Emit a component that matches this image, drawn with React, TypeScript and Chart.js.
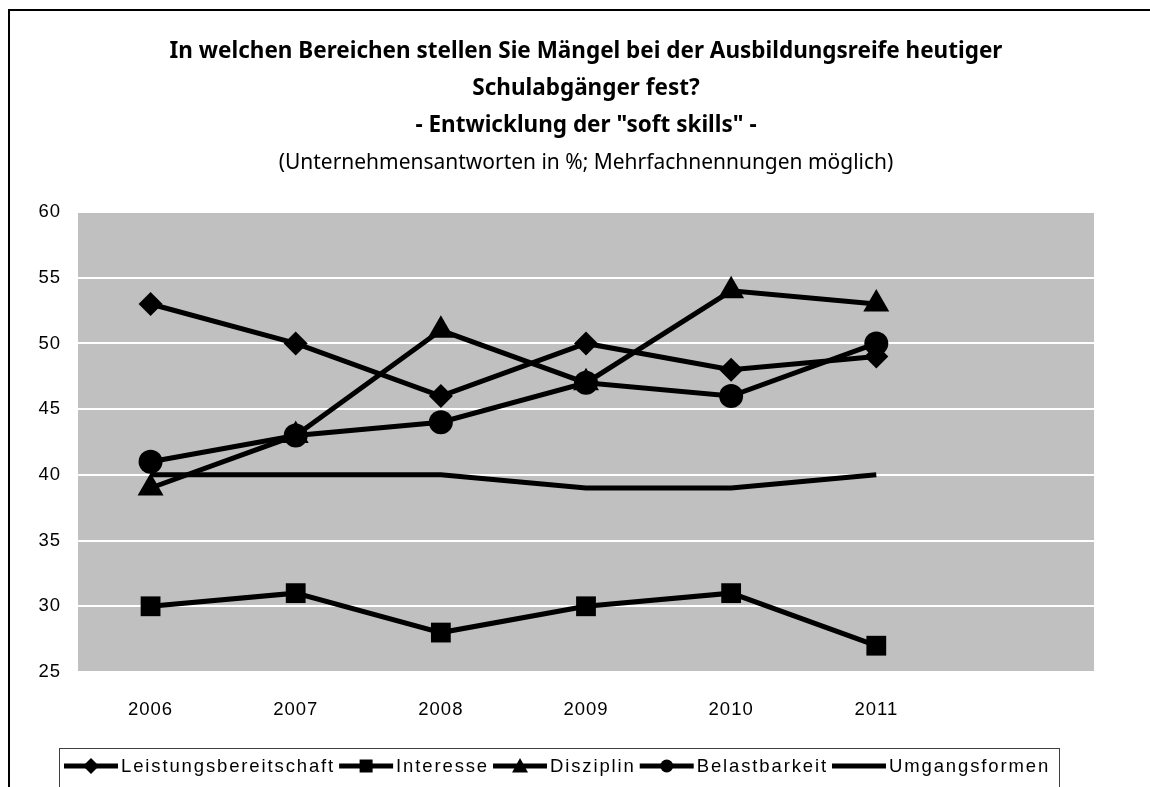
import React, { useEffect, useRef } from 'react';
import { Chart, registerables } from 'chart.js';

Chart.register(...registerables);

const years = ['2006', '2007', '2008', '2009', '2010', '2011', ''];
const leistungsbereitschaft = [53, 50, 46, 50, 48, 49];
const interesse = [30, 31, 28, 30, 31, 27];
const disziplin = [39, 43, 51, 47, 54, 53];
const belastbarkeit = [41, 43, 44, 47, 46, 50];
const umgangsformen = [40, 40, 40, 39, 39, 40];
const seriesNames = ['Leistungsbereitschaft', 'Interesse', 'Disziplin', 'Belastbarkeit', 'Umgangsformen'];
const seriesMarkers = ['rectRot', 'rect', 'triangle', 'circle', 'none'];
const yMin = 25;
const yMax = 60;
const yStep = 5;
const titleBold = [
  'In welchen Bereichen stellen Sie Mängel bei der Ausbildungsreife heutiger',
  'Schulabgänger fest?',
  '- Entwicklung der "soft skills" -',
];
const subtitle = '(Unternehmensantworten in %; Mehrfachnennungen möglich)';

const PLOT_LEFT = 78;
const PLOT_RIGHT = 1094;
const PLOT_TOP = 212;
const PLOT_BOTTOM = 672;
const TITLE_WIDTH = 833;
const SUBTITLE_WIDTH = 615;

function drawMarker(ctx: CanvasRenderingContext2D, style: string, x: number, y: number, r: number) {
  ctx.beginPath();
  if (style === 'rectRot') {
    ctx.moveTo(x, y - r);
    ctx.lineTo(x + r, y);
    ctx.lineTo(x, y + r);
    ctx.lineTo(x - r, y);
    ctx.closePath();
  } else if (style === 'rect') {
    ctx.rect(x - r, y - r, 2 * r, 2 * r);
  } else if (style === 'triangle') {
    ctx.moveTo(x, y - r);
    ctx.lineTo(x + r, y + r * 0.8);
    ctx.lineTo(x - r, y + r * 0.8);
    ctx.closePath();
  } else if (style === 'circle') {
    ctx.arc(x, y, r, 0, Math.PI * 2);
  } else {
    return;
  }
  ctx.fill();
}

function fitFont(ctx: CanvasRenderingContext2D, text: string, weight: string, family: string, width: number) {
  ctx.font = `${weight} 20px ${family}`;
  const w = ctx.measureText(text).width;
  const size = (20 * width) / w;
  return `${weight} ${size.toFixed(2)}px ${family}`;
}

const framePlugin = {
  id: 'customFrame',
  beforeDraw(chart: any) {
    const { ctx, chartArea } = chart;
    ctx.fillStyle = '#c0c0c0';
    ctx.fillRect(chartArea.left, chartArea.top, chartArea.right - chartArea.left, chartArea.bottom - chartArea.top);
    (ctx as any).letterSpacing = '1px';
  },
  afterDraw(chart: any) {
    const { ctx, chartArea } = chart;
    ctx.save();
    (ctx as any).letterSpacing = '0px';
    // title
    const cx = (chartArea.left + chartArea.right) / 2;
    ctx.fillStyle = '#000';
    ctx.textAlign = 'center';
    ctx.textBaseline = 'middle';
    const lineYs = [52, 89, 126, 163];
    ctx.font = fitFont(ctx, titleBold[0], 'bold', '"Noto Sans"', TITLE_WIDTH);
    titleBold.forEach((t, i) => ctx.fillText(t, cx, lineYs[i]));
    ctx.font = fitFont(ctx, subtitle, 'normal', '"Noto Sans"', SUBTITLE_WIDTH);
    ctx.fillText(subtitle, cx, lineYs[3]);

    // legend
    const boxL = 59, boxR = 1059, boxT = 748, boxB = 810;
    ctx.strokeStyle = '#404040';
    ctx.lineWidth = 1;
    ctx.strokeRect(boxL + 0.5, boxT + 0.5, boxR - boxL, boxB - boxT);
    ctx.font = '18.5px "Liberation Sans"';
    ctx.textAlign = 'left';
    const sampleW = 54;
    const gapAfterSample = 3;
    const gapAfterText = 4;
    const startX = 64;
    const targetEnd = boxR - 9;
    const natural = seriesNames.reduce((s, n) => s + ctx.measureText(n).width, 0);
    const chars = seriesNames.reduce((s, n) => s + n.length, 0);
    const fixed = seriesNames.length * (sampleW + gapAfterSample) + (seriesNames.length - 1) * gapAfterText;
    const ls = Math.max(0, (targetEnd - startX - fixed - natural) / chars);
    (ctx as any).letterSpacing = ls.toFixed(2) + 'px';
    let x = startX;
    const ly = 766;
    seriesNames.forEach((name, i) => {
      ctx.strokeStyle = '#000';
      ctx.lineWidth = 5;
      ctx.beginPath();
      ctx.moveTo(x, ly);
      ctx.lineTo(x + sampleW, ly);
      ctx.stroke();
      ctx.fillStyle = '#000';
      const m = seriesMarkers[i];
      const r = m === 'rectRot' ? 8 : m === 'rect' ? 6.5 : m === 'triangle' ? 8 : 6.5;
      drawMarker(ctx, m, x + sampleW / 2, ly, r);
      x += sampleW + gapAfterSample;
      ctx.fillStyle = '#000';
      ctx.fillText(name, x, ly + 1);
      x += ctx.measureText(name).width + gapAfterText;
    });
    ctx.restore();
  },
};

export default function App() {
  const canvasRef = useRef<HTMLCanvasElement | null>(null);

  useEffect(() => {
    const canvas = canvasRef.current;
    if (!canvas) return;
    const allData = [leistungsbereitschaft, interesse, disziplin, belastbarkeit, umgangsformen];
    const radii = [12, 14, 15, 12, 0];
    const chart = new Chart(canvas, {
      type: 'line',
      data: {
        labels: years,
        datasets: allData.map((d, i) => ({
          label: seriesNames[i],
          data: d,
          borderColor: '#000',
          backgroundColor: '#000',
          borderWidth: 5,
          pointStyle: seriesMarkers[i] === 'none' ? false : (seriesMarkers[i] as any),
          pointRadius: radii[i],
          pointBorderWidth: 0,
          pointBackgroundColor: '#000',
          pointBorderColor: '#000',
          tension: 0,
          fill: false,
        })),
      },
      options: {
        responsive: false,
        animation: false,
        events: [],
        layout: {
          padding: { top: PLOT_TOP, right: 1150 - PLOT_RIGHT, left: 0, bottom: 0 },
        },
        plugins: {
          legend: { display: false },
          title: { display: false },
          tooltip: { enabled: false },
        },
        scales: {
          x: {
            offset: true,
            grid: { display: false, drawTicks: false },
            border: { display: false },
            ticks: {
              color: '#000',
              font: { family: '"Liberation Sans"', size: 18.5 },
              padding: 27,
              maxRotation: 0,
              autoSkip: false,
            },
            afterFit(scale: any) {
              scale.height = 787 - PLOT_BOTTOM;
            },
          },
          y: {
            min: yMin,
            max: yMax,
            grid: { color: '#ffffff', lineWidth: 2, drawTicks: false },
            border: { display: false },
            ticks: {
              stepSize: yStep,
              color: '#000',
              font: { family: '"Liberation Sans"', size: 18.5 },
              padding: 17,
            },
            afterFit(scale: any) {
              scale.width = PLOT_LEFT;
            },
          },
        },
      },
      plugins: [framePlugin],
    });
    return () => chart.destroy();
  }, []);

  return (
    <div style={{ position: 'absolute', left: 0, top: 0, width: 1150, height: 787, overflow: 'hidden', background: '#fff' }}>
      <div
        style={{
          position: 'absolute',
          left: 8,
          top: 9,
          width: 1300,
          height: 900,
          border: '2px solid #000',
          boxSizing: 'border-box',
        }}
      />
      <canvas ref={canvasRef} width={1150} height={787} style={{ position: 'absolute', left: 0, top: 0 }} />
    </div>
  );
}
